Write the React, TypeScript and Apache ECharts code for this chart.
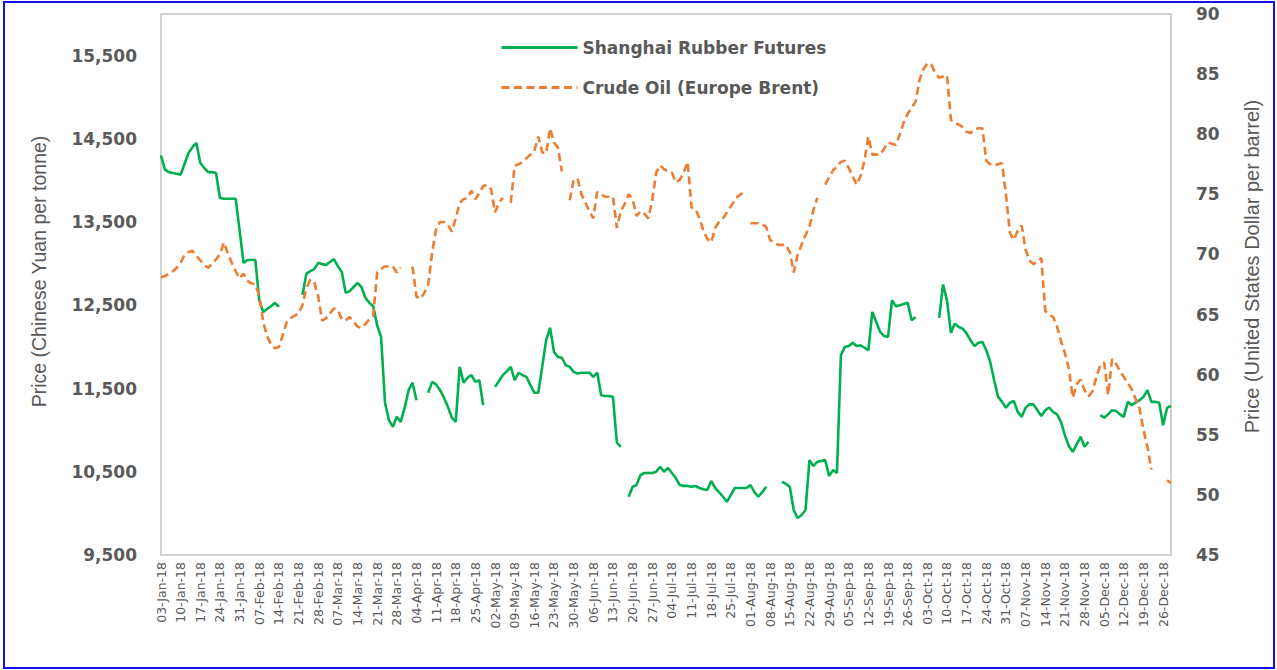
import React, { useEffect, useRef } from "react";
import * as echarts from "echarts";

// Trading days (Mon-Fri) from 03-Jan-18 to 28-Dec-18
const FIRST_DAY = [2018, 0, 3];
const DAY_COUNT = 258;
const MONTHS = ["Jan", "Feb", "Mar", "Apr", "May", "Jun", "Jul", "Aug", "Sep", "Oct", "Nov", "Dec"];

function buildCategories(): string[] {
  const out: string[] = [];
  const d = new Date(FIRST_DAY[0], FIRST_DAY[1], FIRST_DAY[2]);
  while (out.length < DAY_COUNT) {
    const wd = d.getDay();
    if (wd !== 0 && wd !== 6) {
      const dd = String(d.getDate()).padStart(2, "0");
      out.push(`${dd}-${MONTHS[d.getMonth()]}-${String(d.getFullYear()).slice(2)}`);
    }
    d.setDate(d.getDate() + 1);
  }
  return out;
}
const categories = buildCategories();

// Shanghai Rubber Futures, CNY per tonne (null = no trading)
const rubber: (number | null)[] = [
  14300, 14130, 14100, 14090, 14080,
  14070, 14200, 14330, 14400, 14450,
  14210, 14150, 14100, 14100, 14090,
  13790, 13780, 13780, 13780, 13780,
  13400, 13010, 13045, 13045, 13045,
  12560, 12420, 12455, 12490, 12530,
  12480, null, null, null, null,
  null, 12625, 12880, 12910, 12935,
  13010, 12995, 12985, 13020, 13055,
  12970, 12900, 12650, 12670, 12720,
  12770, 12720, 12590, 12530, 12490,
  12260, 12120, 11330, 11120, 11040,
  11160, 11100, 11270, 11480, 11570,
  11360, null, null, 11450, 11580,
  11550, 11480, 11390, 11280, 11150,
  11100, 11760, 11570, 11630, 11660,
  11580, 11600, 11300, null, null,
  11520, 11590, 11660, 11710, 11760,
  11600, 11690, 11660, 11640, 11540,
  11450, 11450, 11760, 12080, 12230,
  11940, 11880, 11870, 11780, 11760,
  11700, 11680, 11690, 11690, 11690,
  11640, 11690, 11420, 11410, 11410,
  11400, 10850, 10800, null, 10200,
  10320, 10340, 10460, 10485, 10485,
  10485, 10500, 10560, 10500, 10545,
  10485, 10425, 10340, 10330, 10330,
  10320, 10330, 10305, 10290, 10280,
  10390, 10305, 10255, 10200, 10140,
  10220, 10305, 10305, 10305, 10305,
  10340, 10255, 10200, 10255, 10320,
  null, null, null, 10380, 10355,
  10320, 10040, 9945, 9980, 10040,
  10640, 10570, 10620, 10630, 10640,
  10450, 10520, 10485, 11900, 12000,
  12010, 12050, 12010, 12020, 11990,
  11960, 12420, 12300, 12180, 12130,
  12120, 12560, 12490, 12500, 12515,
  12530, 12320, 12360, null, null,
  null, null, null, 12350, 12750,
  12560, 12170, 12280, 12240, 12220,
  12160, 12080, 12010, 12050, 12060,
  11960, 11820, 11600, 11400, 11340,
  11270, 11330, 11350, 11220, 11160,
  11270, 11310, 11310, 11240, 11170,
  11240, 11270, 11220, 11190, 11100,
  10940, 10810, 10740, 10830, 10920,
  10800, 10860, null, null, 11180,
  11150, 11190, 11240, 11230, 11190,
  11160, 11340, 11300, 11330, 11360,
  11400, 11480, 11340, 11340, 11330,
  11060, 11270, 11290,
];

// Crude Oil (Europe Brent), USD per barrel (null = no quote)
const brent: (number | null)[] = [
  68.1, 68.2, 68.4, 68.6, 68.9,
  69.3, 70.0, 70.2, 70.3, 69.9,
  69.5, 69.1, 68.9, 69.2, 69.6,
  70.0, 71.0, 70.1, 69.3, 68.6,
  68.0, 68.4, 67.8, 67.6, 67.5,
  66.6, 64.4, 63.2, 62.5, 62.2,
  62.3, 63.3, 64.4, 64.7, 64.9,
  65.1, 65.8, 67.2, 67.9, 67.7,
  66.5, 64.5, 64.7, 65.1, 65.5,
  65.4, 64.6, 64.5, 64.8, 64.4,
  64.0, 63.9, 64.2, 64.6, 64.9,
  68.5, 68.8, 69.0, 69.0, 69.0,
  68.5, 68.9, null, null, 69.0,
  66.5, 66.3, 66.8, 67.5, 70.2,
  72.1, 72.7, 72.7, 72.5, 71.9,
  73.0, 74.3, 74.6, 74.7, 75.3,
  74.6, 75.1, 75.7, 75.8, 75.4,
  73.5, 74.3, 74.7, null, 74.3,
  77.4, 77.5, 77.7, 78.0, 78.3,
  78.6, 79.8, 78.5, 78.4, 80.5,
  79.3, 78.9, 76.9, null, 74.5,
  76.2, 76.3, 75.0, 74.3, 73.6,
  73.0, 75.2, 75.0, 74.8, 74.8,
  74.8, 72.2, 73.6, 74.2, 75.0,
  74.6, 73.2, 73.6, 73.4, 73.0,
  74.5, 76.8, 77.4, 77.1, 76.9,
  76.8, 76.0, 76.2, 76.8, 77.7,
  73.9, 73.8, 73.0, 72.0, 71.3,
  71.0, 72.2, 72.7, 73.0, 73.5,
  74.0, 74.5, 74.9, 75.1, null,
  72.6, 72.6, 72.6, 72.5, 72.3,
  71.2, 71.0, 70.8, 70.8, 70.8,
  70.2, 68.5, 70.0, 70.8, 71.6,
  72.3, 73.7, 74.7, null, 75.8,
  76.4, 77.0, 77.3, 77.7, 77.8,
  77.2, 76.5, 75.8, 76.5, 77.8,
  79.8, 78.3, 78.3, 78.3, 78.8,
  79.3, 79.2, 79.1, 80.0, 81.0,
  81.7, 82.2, 82.7, 84.5, 85.4,
  85.9, 85.8, 85.1, 84.7, 84.8,
  84.9, 81.2, 80.9, 80.8, 80.6,
  80.2, 80.1, 80.4, 80.5, 80.5,
  77.8, 77.5, 77.4, 77.5, 77.6,
  75.0, 71.8, 71.2, 72.0, 72.4,
  70.4, 69.5, 69.2, 69.4, 69.7,
  65.3, 65.0, 64.8, 64.0, 62.8,
  61.8, 60.5, 58.1, 59.2, 59.6,
  58.7, 58.2, 58.6, 59.8, 60.8,
  61.0, 58.3, 61.3, 60.9, 60.3,
  59.8, 59.3, 58.8, 58.0, 57.2,
  55.4, 54.0, 52.1, null, null,
  null, 51.2, 51.0,
];

const SERIES_NAMES = ["Shanghai Rubber Futures", "Crude Oil (Europe Brent)"];
const LEFT_TITLE = "Price (Chinese Yuan per tonne)";
const RIGHT_TITLE = "Price (United States Dollar per barrel)";

const TEXT = "#595959";

export default function App() {
  const ref = useRef<HTMLDivElement | null>(null);

  useEffect(() => {
    if (!ref.current) return;
    const chart = echarts.init(ref.current, undefined, { renderer: "svg" });
    chart.setOption({
      animation: false,
      backgroundColor: "#ffffff",
      grid: {
        left: 161,
        top: 14,
        width: 1010,
        height: 541,
        containLabel: false,
        outerBoundsMode: "none",
        show: true,
        borderColor: "#C4C4C4",
        borderWidth: 1.5,
        backgroundColor: "transparent",
      },
      legend: {
        orient: "vertical",
        left: 500,
        top: 39,
        padding: 0,
        itemWidth: 76,
        itemHeight: 20,
        itemGap: 23,
        itemStyle: { opacity: 0 },
        lineStyle: { width: 3 },
        textStyle: {
          fontFamily: "DejaVu Sans",
          fontWeight: "bold",
          fontSize: 17,
          color: TEXT,
        },
        data: SERIES_NAMES,
      },
      xAxis: {
        type: "category",
        data: categories,
        boundaryGap: false,
        axisLine: { show: false },
        axisTick: { show: false },
        splitLine: { show: false },
        axisLabel: {
          interval: (index: number) => index % 5 === 0,
          rotate: 90,
          margin: 7,
          fontFamily: "DejaVu Sans",
          fontSize: 12.5,
          color: TEXT,
          hideOverlap: false,
        },
      },
      yAxis: [
        {
          type: "value",
          min: 9500,
          max: 16000,
          interval: 1000,
          position: "left",
          axisLine: { show: false },
          axisTick: { show: false },
          splitLine: { show: false },
          axisLabel: {
            showMaxLabel: false,
            margin: 24,
            fontFamily: "DejaVu Sans",
            fontWeight: "bold",
            fontSize: 17,
            color: TEXT,
            formatter: (v: number) => v.toLocaleString("en-US"),
          },
          name: LEFT_TITLE,
          nameLocation: "middle",
          nameRotate: 90,
          nameGap: 112,
          nameTextStyle: {
            fontFamily: "Liberation Sans",
            fontSize: 19.5,
            color: TEXT,
            padding: [0, 0, 0, 26],
          },
        },
        {
          type: "value",
          min: 45,
          max: 90,
          interval: 5,
          position: "right",
          axisLine: { show: false },
          axisTick: { show: false },
          splitLine: { show: false },
          axisLabel: {
            showMinLabel: true,
            showMaxLabel: true,
            margin: 25,
            fontFamily: "DejaVu Sans",
            fontWeight: "bold",
            fontSize: 17,
            color: TEXT,
          },
          name: RIGHT_TITLE,
          nameLocation: "middle",
          nameRotate: 90,
          nameGap: 71,
          nameTextStyle: {
            fontFamily: "Liberation Sans",
            fontSize: 20,
            color: TEXT,
            padding: [0, 0, 0, 36],
          },
        },
      ],
      series: [
        {
          name: SERIES_NAMES[0],
          type: "line",
          yAxisIndex: 0,
          data: rubber,
          symbol: "none",
          connectNulls: false,
          color: "#00B050",
          lineStyle: { color: "#00B050", width: 2.6 },
        },
        {
          name: SERIES_NAMES[1],
          type: "line",
          yAxisIndex: 1,
          data: brent,
          symbol: "none",
          connectNulls: false,
          color: "#ED7D31",
          lineStyle: { color: "#ED7D31", width: 2.6, type: [8, 4.5] },
        },
      ],
      graphic: [
        {
          type: "rect",
          silent: true,
          shape: { x: 4, y: 2, width: 1270, height: 666 },
          style: { fill: "none", stroke: "#1010F0", lineWidth: 2 },
        },
      ],
    });
    return () => chart.dispose();
  }, []);

  return (
    <div
      ref={ref}
      style={{ position: "absolute", left: 0, top: 0, width: 1277, height: 670, background: "#fff" }}
    />
  );
}
